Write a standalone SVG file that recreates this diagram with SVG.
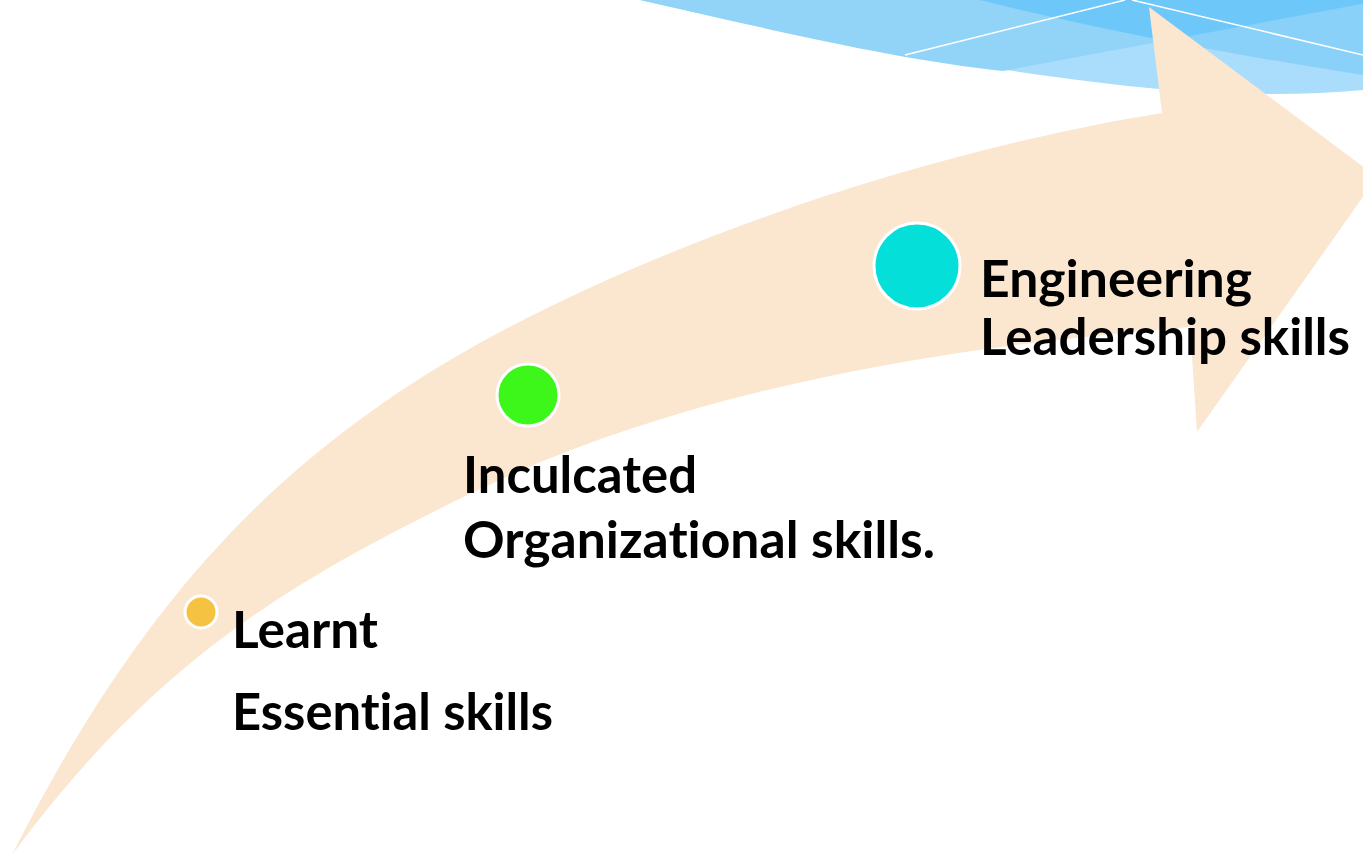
<svg xmlns="http://www.w3.org/2000/svg" width="1363" height="856" viewBox="0 0 1363 856">
  <style>
    .lbl { font-family: Lato, "Liberation Sans", sans-serif; font-weight: 700; font-size: 51px; fill: #000000; font-variant-ligatures: none; font-feature-settings: "liga" 0, "clig" 0; }
    .dot { stroke: #FFFFFF; stroke-width: 3; }
    .wl { stroke: #FFFFFF; stroke-width: 1.5; fill: none; }
  </style>
  <defs>
    <clipPath id="cA">
      <path d="M640,0 C780,32 900,60 1003,71 L1383,0 Z"/>
    </clipPath>
  </defs>
  <rect x="0" y="0" width="1363" height="856" fill="#FFFFFF"/>
  <g id="banner">
    <path d="M640,0 C780,32 1000,75 1160,89 C1230,95 1300,96 1363,90 L1363,0 Z" fill="#AADDFB"/>
    <path d="M640,0 C780,32 900,60 1003,71 L1383,0 Z" fill="#92D4F8"/>
    <path d="M980,0 Q1150,42 1363,75 L1363,0 Z" fill="#89D1F8"/>
    <path d="M980,0 Q1150,42 1363,75 L1363,0 Z" fill="#6DC8F9" clip-path="url(#cA)"/>
    <path class="wl" d="M905,55 L1125,0 M1132,0 L1363,55"/>
  </g>
  <g id="arrow">
    <path d="M12,855 C142,596 273,480 383,403 C583,264 912,153 1162,113 L1149,7 L1377,177 L1197,432 L1190,327 C940,347 677,390 457,500 C307,575 162,651 12,855 Z" fill="#FBE7D0"/>
  </g>
  <g id="connectors"></g>
  <g id="node-learnt">
    <circle class="dot" cx="201" cy="612" r="16" fill="#F5C242"/>
    <text class="lbl" x="232" y="648" textLength="146" lengthAdjust="spacingAndGlyphs">Learnt</text>
    <text class="lbl" x="232" y="730" textLength="321" lengthAdjust="spacingAndGlyphs">Essential skills</text>
  </g>
  <g id="node-inculcated">
    <circle class="dot" cx="528" cy="395" r="31" fill="#3DF71B"/>
    <text class="lbl" x="463" y="493" textLength="234" lengthAdjust="spacingAndGlyphs">Inculcated</text>
    <text class="lbl" x="463" y="558" textLength="472" lengthAdjust="spacingAndGlyphs">Organizational skills.</text>
  </g>
  <g id="node-engineering">
    <circle class="dot" cx="917" cy="266" r="43" fill="#05DFD9"/>
    <text class="lbl" x="980" y="297" textLength="272" lengthAdjust="spacingAndGlyphs">Engineering</text>
    <text class="lbl" x="980" y="355" textLength="370" lengthAdjust="spacingAndGlyphs">Leadership skills</text>
  </g>
</svg>
